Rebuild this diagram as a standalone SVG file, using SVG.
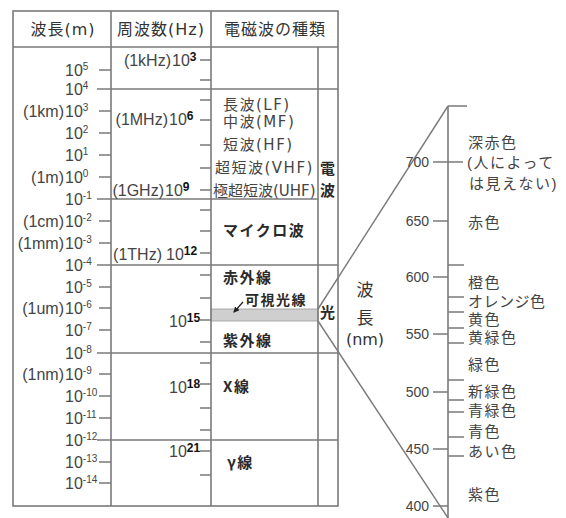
<svg xmlns="http://www.w3.org/2000/svg" width="566" height="518" viewBox="0 0 566 518">
<style>
.ln{stroke:#7a7a7a;stroke-width:1.6;fill:none}
.tk{stroke:#7a7a7a;stroke-width:1.4;fill:none}
.hd{font-family:"DejaVu Sans","Noto Sans CJK JP",sans-serif;font-size:16px;fill:#333;letter-spacing:1px;text-anchor:middle}
.wl{font-family:"Liberation Sans","Noto Sans CJK JP",sans-serif;font-size:16px;fill:#444}
.pe{text-anchor:end}
.ws{font-size:10px}
.fq{font-family:"Liberation Sans",sans-serif;font-size:16px;fill:#444}
.fs{font-size:12px;font-weight:bold;fill:#111}
.jp{font-family:"DejaVu Sans","Noto Sans CJK JP",sans-serif;font-size:15px;fill:#444;letter-spacing:1.5px}
.jb{font-family:"Noto Sans CJK JP",sans-serif;font-size:15px;font-weight:bold;fill:#2a2a2a;letter-spacing:1.5px}
.nm{font-family:"Liberation Sans",sans-serif;font-size:14px;fill:#444;text-anchor:end}
.cl{font-family:"Liberation Sans","Noto Sans CJK JP",sans-serif;font-size:15px;fill:#444;letter-spacing:1.5px}
.ax{font-family:"DejaVu Sans","Noto Sans CJK JP",sans-serif;font-size:17px;fill:#333;text-anchor:middle}
</style>
<defs>
<marker id="ah" viewBox="0 0 6 6" refX="5" refY="3" markerWidth="5" markerHeight="5" orient="auto"><path d="M0,0 L6,3 L0,6 z" fill="#222"/></marker>
</defs>

<g id="table">
<rect x="211" y="309" width="107" height="12" fill="#cfcfcf" stroke="#999" stroke-width="0.8"/>
<rect class="ln" x="13" y="11" width="325" height="495"/>
<line class="ln" x1="13" y1="47" x2="338" y2="47"/>
<line class="ln" x1="111" y1="11" x2="111" y2="506"/>
<line class="ln" x1="211" y1="11" x2="211" y2="506"/>
<line class="ln" x1="318" y1="47" x2="318" y2="506"/>
<line class="ln" x1="97" y1="89" x2="338" y2="89"/>
<line class="ln" x1="97" y1="199" x2="318" y2="199"/>
<line class="ln" x1="97" y1="265" x2="338" y2="265"/>
<line class="ln" x1="97" y1="353" x2="338" y2="353"/>
<line class="ln" x1="97" y1="440" x2="338" y2="440"/>
</g>

<g id="headers">
<text class="hd" x="63" y="35">波長(m)</text>
<text class="hd" x="161" y="35">周波数(Hz)</text>
<text class="hd" x="275" y="35">電磁波の種類</text>
</g>

<g id="wavelength-scale">
<path class="tk" d="M99,70H111M99,111H111M99,133H111M99,155H111M99,177H111M99,221H111M99,243H111M99,287H111M99,308H111M99,330H111M99,374H111M99,396H111M99,418H111M99,462H111M99,483H111"/>
<text class="wl" x="65" y="76">10<tspan class="ws" dy="-6">5</tspan></text>
<text class="wl" x="65" y="95">10<tspan class="ws" dy="-6">4</tspan></text>
<text class="wl pe" x="64" y="117">(1km)</text><text class="wl" x="65" y="117">10<tspan class="ws" dy="-6">3</tspan></text>
<text class="wl" x="65" y="139">10<tspan class="ws" dy="-6">2</tspan></text>
<text class="wl" x="65" y="161">10<tspan class="ws" dy="-6">1</tspan></text>
<text class="wl pe" x="64" y="183">(1m)</text><text class="wl" x="65" y="183">10<tspan class="ws" dy="-6">0</tspan></text>
<text class="wl" x="65" y="205">10<tspan class="ws" dy="-6">-1</tspan></text>
<text class="wl pe" x="64" y="227">(1cm)</text><text class="wl" x="65" y="227">10<tspan class="ws" dy="-6">-2</tspan></text>
<text class="wl pe" x="64" y="249">(1mm)</text><text class="wl" x="65" y="249">10<tspan class="ws" dy="-6">-3</tspan></text>
<text class="wl" x="65" y="271">10<tspan class="ws" dy="-6">-4</tspan></text>
<text class="wl" x="65" y="293">10<tspan class="ws" dy="-6">-5</tspan></text>
<text class="wl pe" x="64" y="314">(1um)</text><text class="wl" x="65" y="314">10<tspan class="ws" dy="-6">-6</tspan></text>
<text class="wl" x="65" y="336">10<tspan class="ws" dy="-6">-7</tspan></text>
<text class="wl" x="65" y="359">10<tspan class="ws" dy="-6">-8</tspan></text>
<text class="wl pe" x="64" y="380">(1nm)</text><text class="wl" x="65" y="380">10<tspan class="ws" dy="-6">-9</tspan></text>
<text class="wl" x="65" y="402">10<tspan class="ws" dy="-6">-10</tspan></text>
<text class="wl" x="65" y="424">10<tspan class="ws" dy="-6">-11</tspan></text>
<text class="wl" x="65" y="446">10<tspan class="ws" dy="-6">-12</tspan></text>
<text class="wl" x="65" y="468">10<tspan class="ws" dy="-6">-13</tspan></text>
<text class="wl" x="65" y="489">10<tspan class="ws" dy="-6">-14</tspan></text>
</g>

<g id="frequency-scale">
<path class="tk" d="M200,60H211M200,80H211M200,100H211M200,120H211M200,145H211M200,168H211M200,190H211M200,210H211M200,231H211M200,253H211M200,275H211M200,298H211M200,320H211M200,342H211M200,363H211M200,384H211M200,408H211M200,430H211M200,451H211M200,475H211"/>
<text class="fq pe" x="171" y="66">(1kHz)</text><text class="fq" x="172" y="66">10<tspan class="fs" dy="-5">3</tspan></text>
<text class="fq pe" x="168" y="125">(1MHz)</text><text class="fq" x="169" y="125">10<tspan class="fs" dy="-5">6</tspan></text>
<text class="fq pe" x="164" y="196">(1GHz)</text><text class="fq" x="165" y="196">10<tspan class="fs" dy="-5">9</tspan></text>
<text class="fq pe" x="162" y="260">(1THz)</text><text class="fq" x="166" y="260">10<tspan class="fs" dy="-5">12</tspan></text>
<text class="fq" x="169" y="327">10<tspan class="fs" dy="-5">15</tspan></text>
<text class="fq" x="169" y="393">10<tspan class="fs" dy="-5">18</tspan></text>
<text class="fq" x="169" y="457">10<tspan class="fs" dy="-5">21</tspan></text>
</g>

<g id="kinds">
<text class="jp" x="223" y="110">長波(LF)</text>
<text class="jp" x="223" y="127">中波(MF)</text>
<text class="jp" x="223" y="150">短波(HF)</text>
<text class="jp" x="215" y="173">超短波(VHF)</text>
<text class="jp" x="213" y="196" style="letter-spacing:0">極超短波(UHF)</text>
<text class="jb" x="320" y="174">電</text>
<text class="jb" x="320" y="196">波</text>
<text class="jb" x="223" y="236">マイクロ波</text>
<text class="jb" x="223" y="283">赤外線</text>
<text class="jb" x="245" y="305" style="font-size:14px">可視光線</text>
<text class="jb" x="320" y="318">光</text>
<text class="jb" x="223" y="346">紫外線</text>
<text class="jb" x="223" y="392">X線</text>
<text class="jb" x="227" y="468">γ線</text>
</g>

<g id="connectors">
<line x1="243" y1="302" x2="234" y2="312" stroke="#222" stroke-width="1.2" marker-end="url(#ah)"/>
<line class="tk" x1="318" y1="309" x2="448" y2="106"/>
<line class="tk" x1="318" y1="321" x2="448" y2="518"/>
</g>

<g id="axis-label">
<text class="ax" x="365" y="296">波</text>
<text class="ax" x="365" y="324">長</text>
<text class="ax" x="365" y="345" style="font-size:16px">(nm)</text>
</g>

<g id="visible-scale">
<line class="ln" x1="448" y1="106" x2="448" y2="518"/>
<path class="tk" d="M448,106H467M433,162H463M433,221H448M433,277H448M433,334H448M433,392H448M433,449H448M433,506H448M448,265H464M448,297H464M448,312H464M448,328H464M448,343H464M448,380H464M448,400H464M448,412H464M448,437H464M448,456H464"/>
<text class="nm" x="429" y="167">700</text>
<text class="nm" x="429" y="226">650</text>
<text class="nm" x="429" y="282">600</text>
<text class="nm" x="429" y="339">550</text>
<text class="nm" x="429" y="397">500</text>
<text class="nm" x="429" y="454">450</text>
<text class="nm" x="429" y="511">400</text>
<text class="cl" x="468" y="147.5">深赤色</text>
<text class="cl" x="467" y="167.5">(人によって</text>
<text class="cl" x="469" y="188.5">は見えない)</text>
<text class="cl" x="468" y="228">赤色</text>
<text class="cl" x="468" y="288">橙色</text>
<text class="cl" x="468" y="307" style="letter-spacing:0.5px">オレンジ色</text>
<text class="cl" x="468" y="325">黄色</text>
<text class="cl" x="468" y="343">黄緑色</text>
<text class="cl" x="468" y="370">緑色</text>
<text class="cl" x="468" y="397">新緑色</text>
<text class="cl" x="468" y="416">青緑色</text>
<text class="cl" x="468" y="437">青色</text>
<text class="cl" x="468" y="457">あい色</text>
<text class="cl" x="468" y="500">紫色</text>
</g>
</svg>
